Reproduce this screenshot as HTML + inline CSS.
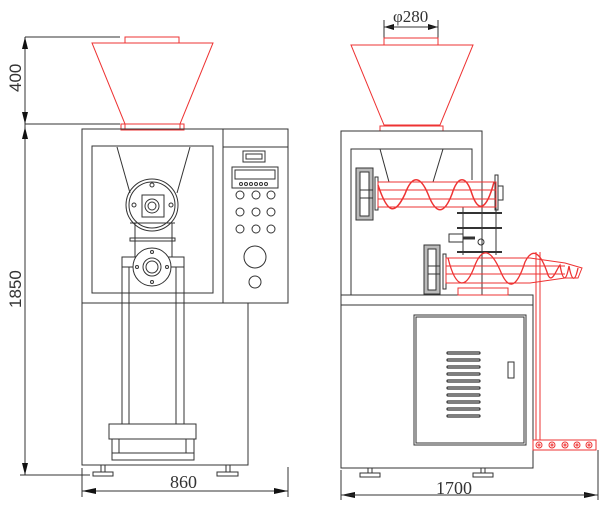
<!DOCTYPE html>
<html><head><style>html,body{margin:0;padding:0;background:#fff}svg{display:block}</style></head>
<body>
<svg width="600" height="507" viewBox="0 0 600 507" xmlns="http://www.w3.org/2000/svg" font-family="Liberation Sans, sans-serif">
<g fill="none" stroke="#333" stroke-width="1">
<line x1="25" y1="37" x2="120" y2="37"/>
<line x1="25" y1="124" x2="120" y2="124"/>
<line x1="25" y1="37" x2="25" y2="475"/>
<line x1="20" y1="475" x2="90" y2="475"/>
<line x1="82" y1="468" x2="82" y2="497"/>
<line x1="288" y1="467" x2="288" y2="497"/>
<line x1="82" y1="491" x2="288" y2="491"/>
</g>
<g fill="#111">
<polygon points="25,37 22,49 28,49"/><polygon points="25,124 22,112 28,112"/>
<polygon points="25,127 22,139 28,139"/><polygon points="25,475 22,463 28,463"/>
<polygon points="82,491 96,488 96,494"/><polygon points="288,491 274,488 274,494"/>
<polygon points="341,495 355,492 355,498"/><polygon points="598,495 584,492 584,498"/>
<polygon points="384,27 394,24 394,30"/><polygon points="438,27 428,24 428,30"/>
</g>
<g font-size="17" fill="#333">
<text transform="translate(21,92) rotate(-90)">400</text>
<text transform="translate(21,308) rotate(-90)">1850</text>
<text x="170" y="488" font-family="Liberation Serif, serif" font-size="18">860</text>
<text x="436" y="494" font-family="Liberation Serif, serif" font-size="18">1700</text>
<text x="393" y="22" font-family="Liberation Serif, serif">φ280</text>
</g>
<g fill="none" stroke="#e33" stroke-width="1">
<rect x="125" y="37" width="54" height="6"/>
<polygon points="92,43 213,43 180,124 125,124"/>
<rect x="121" y="124" width="63" height="6"/>
<line x1="125" y1="124" x2="125" y2="130"/><line x1="180" y1="124" x2="180" y2="130"/>
</g>
<g fill="none" stroke="#333" stroke-width="1">
<rect x="82" y="129" width="206" height="174"/>
<line x1="223" y1="129" x2="223" y2="303"/>
<line x1="223" y1="147" x2="288" y2="147"/>
<rect x="92" y="146" width="121" height="147"/>
<line x1="117" y1="147" x2="130" y2="193"/><line x1="190" y1="147" x2="177" y2="193"/>
<circle cx="152" cy="205" r="26"/><circle cx="152" cy="205" r="23"/>
<rect x="142" y="195" width="22" height="22"/>
<circle cx="152" cy="206" r="7"/><circle cx="152" cy="206" r="4"/>
<circle cx="152" cy="185" r="2"/><circle cx="134" cy="205" r="2"/><circle cx="171" cy="205" r="2"/>
<line x1="130" y1="223" x2="175" y2="223"/>
<rect x="135" y="223" width="37" height="34"/>
<rect x="130" y="238" width="45" height="3"/>
<rect x="122" y="257" width="62" height="10"/>
<circle cx="152" cy="267" r="19" fill="#fff"/><circle cx="152" cy="267" r="9"/><circle cx="152" cy="267" r="6"/>
<circle cx="137" cy="267" r="1.5"/><circle cx="167" cy="267" r="1.5"/><circle cx="152" cy="252" r="1.5"/><circle cx="152" cy="282" r="1.5"/>
<line x1="122" y1="267" x2="122" y2="424"/><line x1="129" y1="267" x2="129" y2="424"/>
<line x1="176" y1="267" x2="176" y2="424"/><line x1="184" y1="267" x2="184" y2="424"/>
<rect x="82" y="303" width="166" height="162"/>
<rect x="109" y="424" width="87" height="15"/>
<rect x="112" y="439" width="82" height="21"/>
<line x1="119" y1="439" x2="119" y2="453"/><line x1="186" y1="439" x2="186" y2="453"/>
<line x1="112" y1="453" x2="194" y2="453"/>
<rect x="93" y="472" width="20" height="4"/><line x1="101" y1="465" x2="101" y2="472"/><line x1="105" y1="465" x2="105" y2="472"/>
<rect x="217" y="472" width="21" height="4"/><line x1="226" y1="465" x2="226" y2="472"/><line x1="230" y1="465" x2="230" y2="472"/>
<rect x="243" y="151" width="22" height="11"/><rect x="246" y="154" width="16" height="5"/>
<rect x="232" y="167" width="46" height="21"/><rect x="235" y="170" width="40" height="9"/>
<circle cx="241" cy="184" r="1.5"/><circle cx="246" cy="184" r="1.5"/><circle cx="251" cy="184" r="1.5"/><circle cx="256" cy="184" r="1.5"/><circle cx="261" cy="184" r="1.5"/><circle cx="266" cy="184" r="1.5"/>
<circle cx="240" cy="195" r="4"/><circle cx="256" cy="195" r="4"/><circle cx="271" cy="195" r="4"/>
<circle cx="240" cy="212" r="4"/><circle cx="256" cy="212" r="4"/><circle cx="271" cy="212" r="4"/>
<circle cx="240" cy="229" r="4"/><circle cx="256" cy="229" r="4"/><circle cx="271" cy="229" r="4"/>
<circle cx="255" cy="257" r="11"/><circle cx="255" cy="282" r="6"/>
</g>
<g fill="none" stroke="#333" stroke-width="1">
<line x1="384" y1="20" x2="384" y2="38"/><line x1="438" y1="20" x2="438" y2="38"/>
<line x1="384" y1="27" x2="438" y2="27"/>
<line x1="341" y1="470" x2="341" y2="500"/><line x1="598" y1="450" x2="598" y2="500"/>
<line x1="341" y1="495" x2="598" y2="495"/>
</g>
<g fill="none" stroke="#e33" stroke-width="1">
<rect x="384" y="38" width="54" height="7"/>
<polygon points="351,45 473,45 440,125 384,125"/>
<rect x="380" y="126" width="63" height="5"/>
</g>
<g fill="none" stroke="#333" stroke-width="1">
<rect x="341" y="131" width="141" height="164"/>
<polyline points="351,295 351,149 472,149 472,180"/>
<line x1="380" y1="149" x2="389" y2="182"/><line x1="443" y1="149" x2="433" y2="182"/>
<rect x="341" y="295" width="192" height="10"/>
<rect x="341" y="305" width="192" height="163"/>
<rect x="414" y="315" width="112" height="130"/><rect x="416" y="317" width="108" height="126"/>
<rect x="508" y="362" width="6" height="16"/>
<g stroke-width="1.2">
<rect x="447" y="352" width="33" height="2" rx="1"/><rect x="447" y="359" width="33" height="2" rx="1"/><rect x="447" y="366" width="33" height="2" rx="1"/><rect x="447" y="373" width="33" height="2" rx="1"/><rect x="447" y="380" width="33" height="2" rx="1"/><rect x="447" y="387" width="33" height="2" rx="1"/><rect x="447" y="394" width="33" height="2" rx="1"/><rect x="447" y="401" width="33" height="2" rx="1"/><rect x="447" y="408" width="33" height="2" rx="1"/><rect x="447" y="415" width="33" height="2" rx="1"/>
</g>
<rect x="360" y="473" width="20" height="4"/><line x1="368" y1="468" x2="368" y2="473"/><line x1="372" y1="468" x2="372" y2="473"/>
<rect x="473" y="473" width="20" height="4"/><line x1="481" y1="468" x2="481" y2="473"/><line x1="485" y1="468" x2="485" y2="473"/>
<rect x="356" y="168" width="17" height="52" fill="#bbb"/>
<rect x="360" y="172" width="9" height="44" fill="#fff"/>
<line x1="360" y1="190" x2="373" y2="190"/><line x1="360" y1="198" x2="373" y2="198"/>
<rect x="375" y="177" width="3" height="33"/>
<rect x="495" y="175" width="3" height="35"/><rect x="498" y="186" width="5" height="14"/>
<line x1="463" y1="207" x2="463" y2="255"/><line x1="496" y1="207" x2="496" y2="255"/>
<line x1="457" y1="213" x2="502" y2="213" stroke-width="2"/><line x1="457" y1="228" x2="502" y2="228" stroke-width="2"/><line x1="457" y1="252" x2="502" y2="252" stroke-width="2"/>
<rect x="449" y="234" width="14" height="8"/><line x1="463" y1="238" x2="475" y2="238" stroke-width="3"/><circle cx="481" cy="242" r="3"/>
<rect x="424" y="245" width="16" height="49" fill="#bbb"/>
<rect x="428" y="249" width="8" height="41" fill="#fff"/>
<line x1="428" y1="266" x2="440" y2="266"/><line x1="428" y1="274" x2="440" y2="274"/>
<rect x="443" y="254" width="3" height="35"/>
</g>
<g fill="none" stroke="#e33" stroke-width="1">
<rect x="378" y="182" width="118" height="25"/>
<line x1="378" y1="190" x2="496" y2="190"/><line x1="378" y1="199" x2="496" y2="199"/>
<path d="M378,185 C388,215 395,215 405,194 C412,175 420,175 428,194 C436,215 444,215 452,194 C458,175 466,175 472,194 C478,212 486,212 494,182" stroke-width="1.5"/>
<polygon points="446,258 530,258 565,263 582,268 578,278 565,278 530,283 446,283"/>
<line x1="446" y1="266" x2="565" y2="266"/><line x1="446" y1="274" x2="565" y2="274"/>
<path d="M448,258 C456,290 466,290 475,265 C482,248 490,248 500,270 C508,290 516,290 525,262 C532,248 540,250 548,275 C552,284 556,270 560,265 C563,282 566,282 569,266 C572,282 575,282 578,268" stroke-width="1.3"/>
<rect x="458" y="288" width="50" height="7"/>
<line x1="536" y1="252" x2="536" y2="440"/><line x1="540" y1="252" x2="540" y2="440"/>
<rect x="533" y="440" width="63" height="10"/>
<circle cx="539" cy="445" r="3"/><circle cx="552" cy="445" r="3"/><circle cx="565" cy="445" r="3"/><circle cx="577" cy="445" r="3"/><circle cx="589" cy="445" r="3"/>
<circle cx="539" cy="445" r="1"/><circle cx="552" cy="445" r="1"/><circle cx="565" cy="445" r="1"/><circle cx="577" cy="445" r="1"/><circle cx="589" cy="445" r="1"/>
</g>
</svg>
</body></html>
